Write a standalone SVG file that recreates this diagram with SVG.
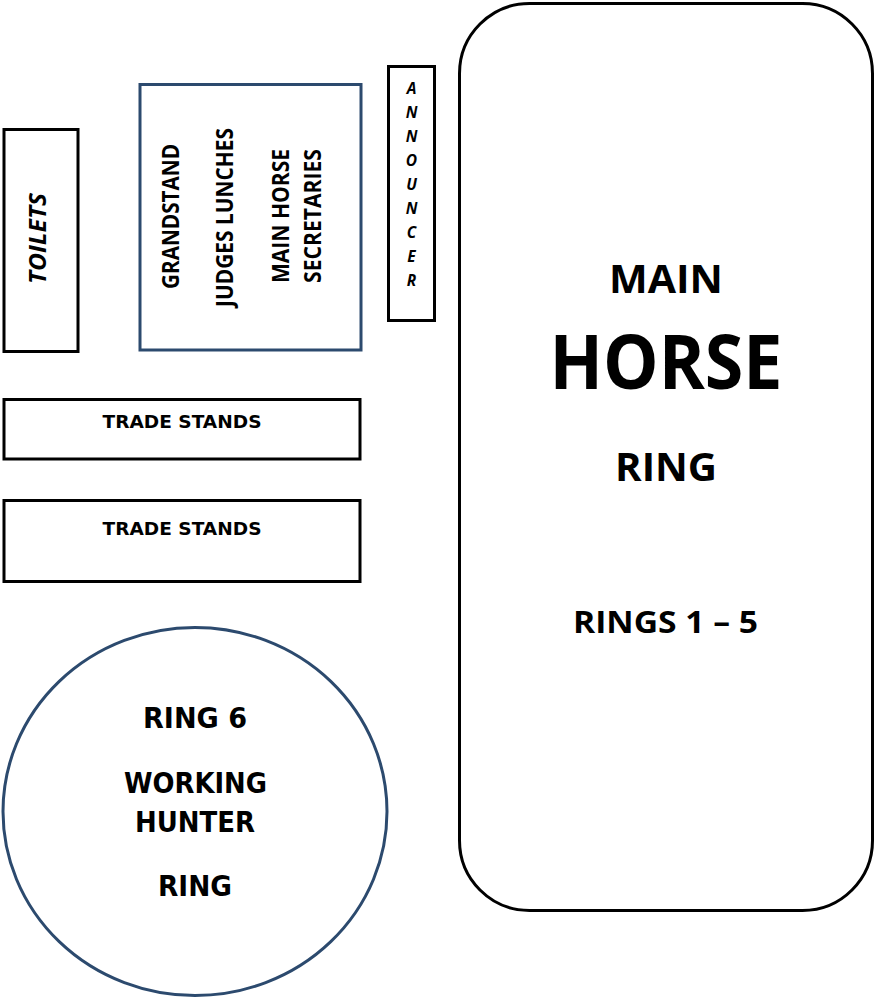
<svg xmlns="http://www.w3.org/2000/svg" width="875" height="997" viewBox="0 0 875 997">
<style>
.box{fill:#fff;stroke:#000;stroke-width:3}
.blue{fill:#fff;stroke:#2c4a6e;stroke-width:3}
.cal{font-family:"Open Sans","Noto Sans","Liberation Sans",sans-serif;font-weight:bold;fill:#000;text-anchor:middle}
.it{font-style:italic}
.com{font-family:"DejaVu Sans","Liberation Sans",sans-serif;font-weight:bold;fill:#000;text-anchor:middle}
</style>
<rect width="875" height="997" fill="#fff"/>
<g id="connectors"></g>
<g id="main-ring">
<rect class="box" x="459.5" y="3.5" width="413" height="907" rx="70" ry="70"/>
<text class="cal" x="666" y="293" font-size="39.5" textLength="114" lengthAdjust="spacingAndGlyphs">MAIN</text>
<text class="cal" x="666" y="389" font-size="75" textLength="233" lengthAdjust="spacingAndGlyphs">HORSE</text>
<text class="cal" x="666" y="481" font-size="38.6" textLength="102" lengthAdjust="spacingAndGlyphs">RING</text>
<text class="cal" x="665.5" y="633" font-size="30" textLength="185" lengthAdjust="spacingAndGlyphs">RINGS 1 – 5</text>
</g>
<g id="toilets">
<rect class="box" x="4" y="129.5" width="74" height="222"/>
<text class="cal it" transform="translate(46,238.5) rotate(-90)" font-size="23.5" textLength="91" lengthAdjust="spacingAndGlyphs">TOILETS</text>
</g>
<g id="grandstand">
<rect class="blue" x="140" y="84.5" width="221" height="265.5"/>
<text class="cal" transform="translate(179,216.5) rotate(-90)" font-size="22.5" textLength="145" lengthAdjust="spacingAndGlyphs">GRANDSTAND</text>
<text class="cal" transform="translate(233,217.5) rotate(-90)" font-size="22.5" textLength="179" lengthAdjust="spacingAndGlyphs">JUDGES LUNCHES</text>
<text class="cal" transform="translate(289,216) rotate(-90)" font-size="22.5" textLength="134" lengthAdjust="spacingAndGlyphs">MAIN HORSE</text>
<text class="cal" transform="translate(321,216) rotate(-90)" font-size="22.5" textLength="134" lengthAdjust="spacingAndGlyphs">SECRETARIES</text>
</g>
<g id="announcer">
<rect class="box" x="388.5" y="66.5" width="46" height="254"/>
<g class="cal it" font-size="15.5">
<text x="411.5" y="93.5">A</text>
<text x="411.5" y="117.5">N</text>
<text x="411.5" y="141.5">N</text>
<text x="411.5" y="165.5">O</text>
<text x="411.5" y="189.5">U</text>
<text x="411.5" y="213.5">N</text>
<text x="411.5" y="237.5">C</text>
<text x="411.5" y="261.5">E</text>
<text x="411.5" y="285.5">R</text>
</g>
</g>
<g id="trade-stands-1">
<rect class="box" x="4" y="399.5" width="356" height="59.5"/>
<text class="com" x="182" y="428" font-size="17.5" textLength="159" lengthAdjust="spacingAndGlyphs">TRADE STANDS</text>
</g>
<g id="trade-stands-2">
<rect class="box" x="4" y="500.5" width="356" height="81"/>
<text class="com" x="182" y="535" font-size="17.5" textLength="159" lengthAdjust="spacingAndGlyphs">TRADE STANDS</text>
</g>
<g id="ring-6">
<ellipse class="blue" cx="195" cy="811.5" rx="192" ry="184"/>
<text class="com" x="195" y="728" font-size="28" textLength="104" lengthAdjust="spacingAndGlyphs">RING 6</text>
<text class="com" x="195.5" y="792.7" font-size="28" textLength="143" lengthAdjust="spacingAndGlyphs">WORKING</text>
<text class="com" x="195" y="832" font-size="28" textLength="120" lengthAdjust="spacingAndGlyphs">HUNTER</text>
<text class="com" x="195" y="896" font-size="28" textLength="74" lengthAdjust="spacingAndGlyphs">RING</text>
</g>
</svg>
